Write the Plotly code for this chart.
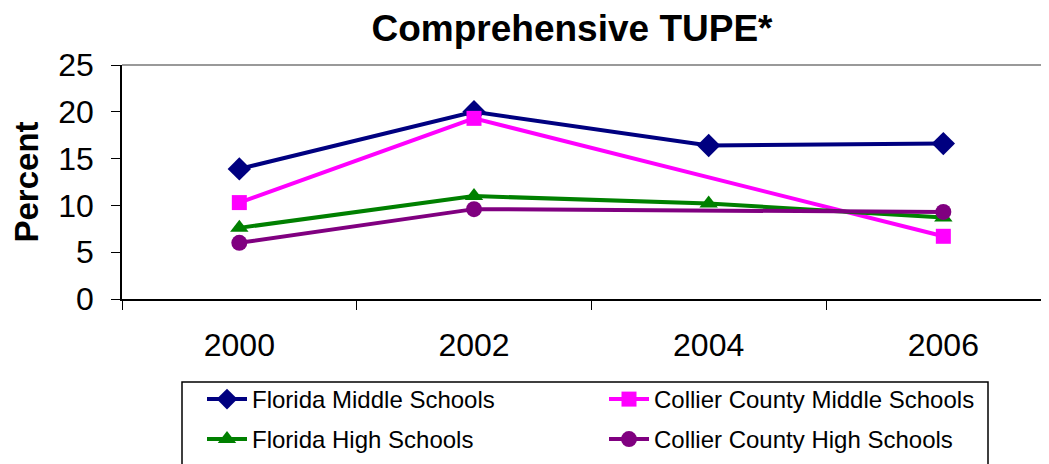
import plotly.graph_objects as go

years = ["2000", "2002", "2004", "2006"]
florida_middle = [13.9, 20.0, 16.4, 16.6]
collier_middle = [10.3, 19.3, None, 6.7]
florida_high = [7.6, 11.0, 10.2, 8.7]
collier_high = [6.0, 9.6, None, 9.3]

series = [
    ("Florida Middle Schools", florida_middle, "#000080", "diamond", 18, "legend"),
    ("Collier County Middle Schools", collier_middle, "#FF00FF", "square", 15, "legend"),
    ("Florida High Schools", florida_high, "#008000", "triangle-up", 16, "legend2"),
    ("Collier County High Schools", collier_high, "#800080", "circle", 16, "legend2"),
]

FONT = "Liberation Sans, Arial, sans-serif"
OFF = 8  # page body margin
W, H = 1049 - OFF, 464 - OFF
L, R, T = 122 - OFF, 0, 65 - OFF
PB = 299  # plot bottom in page px
B = H - (PB - OFF)
pw = W - L - R
ph = (PB - OFF) - T


def px(xp):
    return (xp - 122) / pw


def py(yp):
    return (PB - yp) / ph


fig = go.Figure()
for name, vals, color, sym, sz, lg in series:
    fig.add_trace(go.Scatter(
        x=years, y=vals, name=name, mode="lines+markers",
        connectgaps=True, legend=lg,
        line=dict(color=color, width=4),
        marker=dict(symbol=sym, size=sz, color=color, line=dict(width=0)),
    ))

leg_common = dict(
    orientation="h", xanchor="left", yanchor="top",
    borderwidth=0, bgcolor="rgba(0,0,0,0)",
    font=dict(size=24, family=FONT),
    entrywidth=347, entrywidthmode="pixels",
    traceorder="normal", itemwidth=40,
)

fig.update_layout(
    width=W, height=H,
    margin=dict(l=L, r=R, t=T, b=B, autoexpand=False),
    paper_bgcolor="white", plot_bgcolor="white",
    font=dict(family=FONT, color="black"),
    title=dict(text="<b>Comprehensive TUPE*</b>", font=dict(size=37, family=FONT),
               x=(572 - OFF) / W, xanchor="center", xref="container",
               y=1 - (28 - OFF) / H, yanchor="middle", yref="container"),
    showlegend=True,
    legend=dict(x=px(202), y=py(377), **leg_common),
    legend2=dict(x=px(202), y=py(417), **leg_common),
    xaxis=dict(
        type="category", range=[-0.5, (1049 - 122) / ((826 - 122) / 3) - 0.5],
        tickson="boundaries", ticks="outside", ticklen=9, tickcolor="black",
        showline=True, linecolor="black", linewidth=1.5,
        showgrid=False, zeroline=False,
        tickfont=dict(size=32, family=FONT), ticklabelstandoff=17,
    ),
    yaxis=dict(
        range=[0, 25], dtick=5, tick0=0,
        ticks="outside", ticklen=9, tickcolor="black",
        showline=True, linecolor="black", linewidth=1.5,
        showgrid=False, zeroline=False,
        tickfont=dict(size=32, family=FONT), ticklabelstandoff=11,
        title=dict(text="<b>Percent</b>", font=dict(size=33, family=FONT), standoff=18),
    ),
    shapes=[
        dict(type="line", xref="paper", yref="paper", x0=0, x1=1, y0=1, y1=1,
             line=dict(color="#999999", width=2)),
        dict(type="rect", xref="paper", yref="paper",
             x0=px(182), x1=px(988), y0=py(382), y1=py(520),
             line=dict(color="black", width=1.5), fillcolor="rgba(0,0,0,0)"),
    ],
)

fig.write_html("out.html")
